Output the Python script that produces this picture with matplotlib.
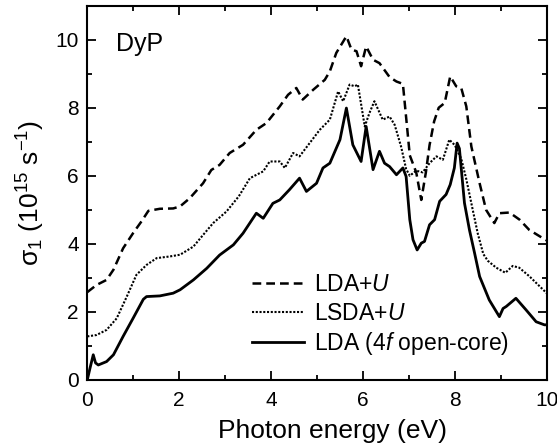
import matplotlib
matplotlib.use("Agg")
import matplotlib.pyplot as plt
from matplotlib.ticker import MultipleLocator

plt.rcParams["font.family"] = ["Liberation Sans", "DejaVu Sans"]
plt.rcParams["mathtext.fontset"] = "custom"
plt.rcParams["mathtext.rm"] = "Liberation Sans"
plt.rcParams["mathtext.it"] = "Liberation Sans:italic"
plt.rcParams["mathtext.default"] = "regular"

# LDA+U (dashed)
lda_u_x = [0, 0.2, 0.42, 0.57, 0.78, 1.0, 1.18, 1.33, 1.58, 1.87, 2.02, 2.23, 2.52,
           2.7, 2.88, 3.1, 3.39, 3.68, 3.9, 4.19, 4.37, 4.55, 4.69, 4.92, 5.17, 5.28,
           5.42, 5.64, 5.75, 5.86, 5.96, 6.07, 6.22, 6.36, 6.58, 6.73, 6.87, 7.02,
           7.09, 7.16, 7.27, 7.37, 7.45, 7.55, 7.65, 7.78, 7.9, 8.03, 8.14, 8.25,
           8.36, 8.54, 8.68, 8.86, 8.97, 9.19, 9.41, 9.62, 9.91, 10.0]
lda_u_y = [2.58, 2.79, 2.94, 3.24, 3.87, 4.32, 4.66, 4.97, 5.03, 5.04, 5.1, 5.34, 5.78,
           6.17, 6.32, 6.67, 6.91, 7.35, 7.55, 8.04, 8.38, 8.58, 8.24, 8.53, 8.82, 9.07,
           9.61, 10.1, 9.71, 9.66, 9.22, 9.8, 9.41, 9.31, 8.9, 8.77, 8.7, 6.6,
           6.35, 6.1, 5.29, 6.1, 6.9, 7.6, 8.0, 8.14, 8.92, 8.63, 8.58, 8.04,
           6.86, 5.78, 5.0, 4.61, 4.9, 4.92, 4.71, 4.41, 4.17, 4.1]

# LSDA+U (dotted)
lsda_u_x = [0, 0.2, 0.42, 0.64, 0.86, 1.07, 1.29, 1.51, 1.8, 2.02, 2.31, 2.52, 2.74,
            3.03, 3.3, 3.54, 3.83, 3.97, 4.19, 4.3, 4.48, 4.62, 4.84, 5.06, 5.28, 5.46,
            5.57, 5.71, 5.82, 5.89, 6.04, 6.14, 6.25, 6.43, 6.58, 6.69, 6.83, 6.94,
            7.02, 7.16, 7.3, 7.45, 7.6, 7.74, 7.88, 8.0, 8.14, 8.25, 8.39, 8.5, 8.62,
            8.72, 8.9, 9.1, 9.26, 9.4, 9.62, 10.0]
lsda_u_y = [1.28, 1.32, 1.47, 1.81, 2.45, 3.09, 3.38, 3.58, 3.63, 3.68, 3.92, 4.26, 4.61,
            4.95, 5.4, 5.93, 6.13, 6.42, 6.42, 6.23, 6.67, 6.57, 6.96, 7.35, 7.65, 8.48,
            8.19, 8.68, 8.63, 8.68, 7.45, 7.84, 8.19, 7.65, 7.74, 7.5, 6.86, 6.2,
            6.0, 6.15, 6.1, 6.37, 6.57, 6.47, 7.06, 6.9, 6.5, 5.9, 5.0, 4.3, 3.7,
            3.5, 3.3, 3.15, 3.35, 3.3, 3.05, 2.55]

# LDA 4f open-core (solid)
lda_oc_x = [0, 0.06, 0.13, 0.18, 0.24, 0.42, 0.57, 0.78, 1.0, 1.22, 1.29, 1.58, 1.87,
            2.02, 2.31, 2.6, 2.88, 3.18, 3.39, 3.68, 3.83, 4.04, 4.19, 4.4, 4.62, 4.77,
            4.99, 5.13, 5.28, 5.5, 5.64, 5.78, 5.96, 6.07, 6.22, 6.36, 6.47, 6.58,
            6.73, 6.87, 6.94, 7.02, 7.09, 7.18, 7.27, 7.34, 7.45, 7.56, 7.67, 7.81,
            7.9, 7.99, 8.05, 8.1, 8.21, 8.32, 8.43, 8.54, 8.75, 8.97, 9.05, 9.12, 9.33,
            9.55, 9.77, 9.95, 10.0]
lda_oc_y = [0.0, 0.35, 0.74, 0.5, 0.44, 0.54, 0.74, 1.28, 1.82, 2.37, 2.45, 2.47, 2.55,
            2.65, 2.94, 3.28, 3.67, 3.97, 4.31, 4.9, 4.75, 5.19, 5.29, 5.59, 5.93, 5.54,
            5.78, 6.23, 6.37, 7.06, 7.99, 6.91, 6.42, 7.45, 6.18, 6.72, 6.37, 6.27,
            6.03, 6.23, 5.98, 4.71, 4.12, 3.82, 4.02, 4.07, 4.56, 4.71, 5.25, 5.45,
            5.74, 6.23, 6.96, 6.8, 5.2, 4.4, 3.73, 3.04, 2.35, 1.86, 2.1, 2.16, 2.4,
            2.06, 1.71, 1.62, 1.62]

fig = plt.figure(figsize=(5.57, 4.47), dpi=100)
ax = fig.add_axes([0.1567, 0.150, 0.8248, 0.8374])

ax.plot(lda_u_x, lda_u_y, color="black", lw=1.8, linestyle=(0, (3.5, 2.0)),
        label="LDA+$\\mathit{U}$")
ax.plot(lsda_u_x, lsda_u_y, color="black", lw=1.5, linestyle=(0, (1.0, 0.8)),
        label="LSDA+$\\mathit{U}$")
ax.plot(lda_oc_x, lda_oc_y, color="black", lw=2.0, linestyle="-",
        label="LDA (4$\\mathit{f}$ open-core)")

ax.set_xlim(0, 10)
ax.set_ylim(0, 11)
ax.xaxis.set_major_locator(MultipleLocator(2))
ax.xaxis.set_minor_locator(MultipleLocator(1))
ax.yaxis.set_major_locator(MultipleLocator(2))
ax.yaxis.set_minor_locator(MultipleLocator(1))
ax.tick_params(which="both", direction="in", top=True, right=True, width=1.3,
               labelsize=15)
ax.tick_params(which="major", length=6.5)
ax.tick_params(which="minor", length=3.5)
ax.tick_params(axis="x", pad=8)
ax.tick_params(axis="y", pad=6)
for s in ax.spines.values():
    s.set_linewidth(1.5)

ax.set_xlabel("Photon energy (eV)", fontsize=19)
ax.xaxis.set_label_coords(0.533, -0.105)
ax.set_ylabel("σ$_1$ (10$^{15}$ s$^{-1}$)", fontsize=19, labelpad=6)

ax.text(0.062, 0.93, "DyP", transform=ax.transAxes, fontsize=18,
        ha="left", va="top")

ax.legend(loc="upper left", bbox_to_anchor=(0.358, 0.285), frameon=False,
          fontsize=16.5, handlelength=2.3, handletextpad=0.4, labelspacing=0.23,
          borderpad=0, borderaxespad=0)

plt.savefig("out.png", dpi=100)
plt.close()
